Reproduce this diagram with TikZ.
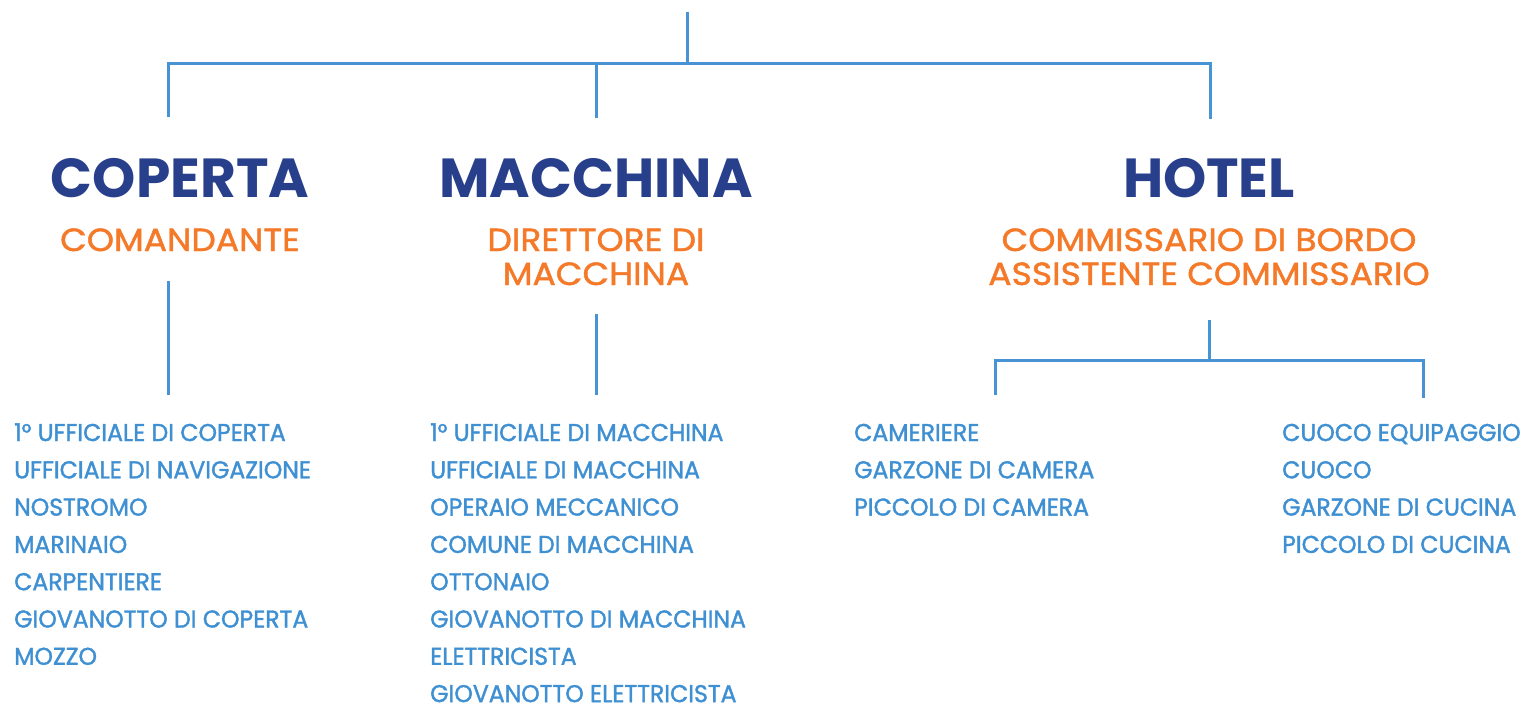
\documentclass[tikz,border=0pt]{standalone}
\usepackage{fontspec}
\setmainfont{Poppins}
\newfontfamily\medfont{Poppins}[FakeBold=1.5,FakeStretch=0.97]
\newfontfamily\subfont{Poppins}[FakeBold=1.5,FakeStretch=1.08]
\definecolor{dblue}{HTML}{283F8C}
\definecolor{orng}{HTML}{F47A2A}
\definecolor{lblue}{HTML}{3F90D2}
\definecolor{lnblue}{HTML}{4893D3}
\tikzset{
  title/.style={anchor=base, inner sep=0pt, text=dblue, font=\fontsize{55}{60}\selectfont\bfseries},
  sub/.style={anchor=base, inner sep=0pt, text=orng, font=\subfont\fontsize{32}{34}\selectfont},
  item/.style={anchor=base west, inner sep=0pt, text=lblue, font=\medfont\fontsize{24.3}{30}\selectfont},
  conn/.style={draw=lnblue, line width=3pt}
}
\begin{document}
\begin{tikzpicture}[x=1pt,y=-1pt]
\useasboundingbox (0,0) rectangle (1523,704);
% top bus
\coordinate (root) at (687,12);
\coordinate (busL) at (168,63);
\coordinate (busM) at (596,63);
\coordinate (busR) at (1210,63);
\coordinate (rootJ) at (687,63);
\coordinate (cL) at (168,117);
\coordinate (cM) at (596,118);
\coordinate (cR) at (1210,119);
\draw[conn] (root) -- (rootJ);
\draw[conn] (cL) -- (busL) -- (busR) -- (cR);
\draw[conn] (busM) -- (cM);
% titles
\node[title] (tC) at (180,197) {COPERTA};
\node[title] (tM) at (596,197) {MACCHINA};
\node[title] (tH) at (1209,197) {HOTEL};
\node[sub] (sC) at (180,251) {COMANDANTE};
\node[sub] (sM1) at (596,251) {DIRETTORE DI};
\node[sub] (sM2) at (596,285) {MACCHINA};
\node[sub] (sH1) at (1209,251) {COMMISSARIO DI BORDO};
\node[sub] (sH2) at (1209,285) {ASSISTENTE COMMISSARIO};
% lower connectors
\coordinate (dC1) at (168,281);
\coordinate (dC2) at (168,395);
\coordinate (dM1) at (596,314);
\coordinate (dM2) at (596,395);
\coordinate (dH1) at (1209,320);
\coordinate (dH2) at (1209,360);
\coordinate (hL) at (995,360);
\coordinate (hR) at (1423,360);
\coordinate (hL2) at (995,395);
\coordinate (hR2) at (1423,398);
\draw[conn] (dC1) -- (dC2);
\draw[conn] (dM1) -- (dM2);
\draw[conn] (dH1) -- (dH2);
\draw[conn] (hL2) -- (hL) -- (hR) -- (hR2);
% lists
\foreach \t [count=\i] in {1° UFFICIALE DI COPERTA,UFFICIALE DI NAVIGAZIONE,NOSTROMO,MARINAIO,CARPENTIERE,GIOVANOTTO DI COPERTA,MOZZO}
  \node[item] (a\i) at (14,{441+37.3*(\i-1)}) {\t};
\foreach \t [count=\i] in {1° UFFICIALE DI MACCHINA,UFFICIALE DI MACCHINA,OPERAIO MECCANICO,COMUNE DI MACCHINA,OTTONAIO,GIOVANOTTO DI MACCHINA,ELETTRICISTA,GIOVANOTTO ELETTRICISTA}
  \node[item] (b\i) at (430,{441+37.3*(\i-1)}) {\t};
\foreach \t [count=\i] in {CAMERIERE,GARZONE DI CAMERA,PICCOLO DI CAMERA}
  \node[item] (c\i) at (854,{441+37.3*(\i-1)}) {\t};
\foreach \t [count=\i] in {CUOCO EQUIPAGGIO,CUOCO,GARZONE DI CUCINA,PICCOLO DI CUCINA}
  \node[item] (d\i) at (1282,{441+37.3*(\i-1)}) {\t};
\end{tikzpicture}
\end{document}
